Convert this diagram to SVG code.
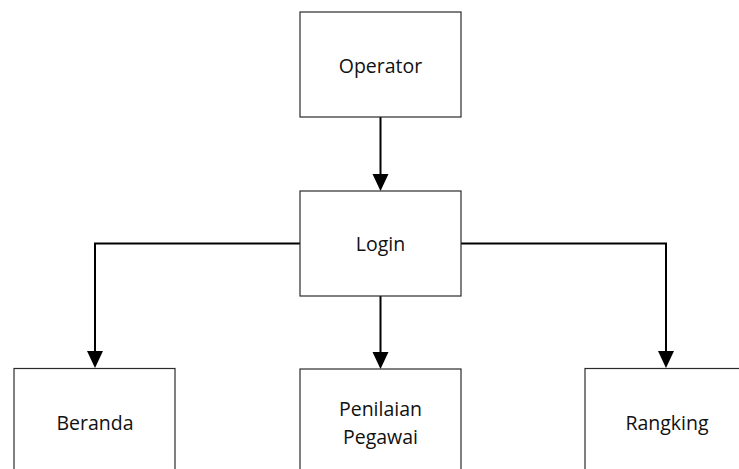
<svg xmlns="http://www.w3.org/2000/svg" width="739" height="469" viewBox="0 0 739 469">
  <style>
    .box { fill: #ffffff; stroke: #2b2b2b; stroke-width: 1.2; }
    .label { font-family: "Open Sans", "Noto Sans", "Liberation Sans", sans-serif; font-size: 19.5px; fill: #111111; text-anchor: middle; }
    .conn { fill: none; stroke: #000000; stroke-width: 2; }
    .head { fill: #000000; }
  </style>
  <rect width="739" height="469" fill="#ffffff"/>

  <g id="connectors">
    <path class="conn" d="M380.5,117 L380.5,174"/>
    <path class="head" d="M372.5,174 L388.5,174 L380.5,191 Z"/>
    <path class="conn" d="M300,243.5 L95,243.5 L95,351"/>
    <path class="head" d="M87,351 L103,351 L95,368 Z"/>
    <path class="conn" d="M461,243.5 L666,243.5 L666,351"/>
    <path class="head" d="M658,351 L674,351 L666,368 Z"/>
    <path class="conn" d="M380.5,296 L380.5,352"/>
    <path class="head" d="M372.5,352 L388.5,352 L380.5,369 Z"/>
  </g>

  <g id="operator">
    <rect class="box" x="300" y="12" width="161" height="105"/>
    <text class="label" x="380.5" y="73">Operator</text>
  </g>
  <g id="login">
    <rect class="box" x="300" y="191" width="161" height="105"/>
    <text class="label" x="380.5" y="251">Login</text>
  </g>
  <g id="beranda">
    <rect class="box" x="14" y="368.5" width="161" height="110"/>
    <text class="label" x="95" y="430">Beranda</text>
  </g>
  <g id="penilaian">
    <rect class="box" x="300" y="369" width="161" height="110"/>
    <text class="label" x="380.5" y="416">Penilaian</text>
    <text class="label" x="380.5" y="443.5">Pegawai</text>
  </g>
  <g id="rangking">
    <rect class="box" x="585" y="368.5" width="161" height="110"/>
    <text class="label" x="667" y="430">Rangking</text>
  </g>
</svg>
